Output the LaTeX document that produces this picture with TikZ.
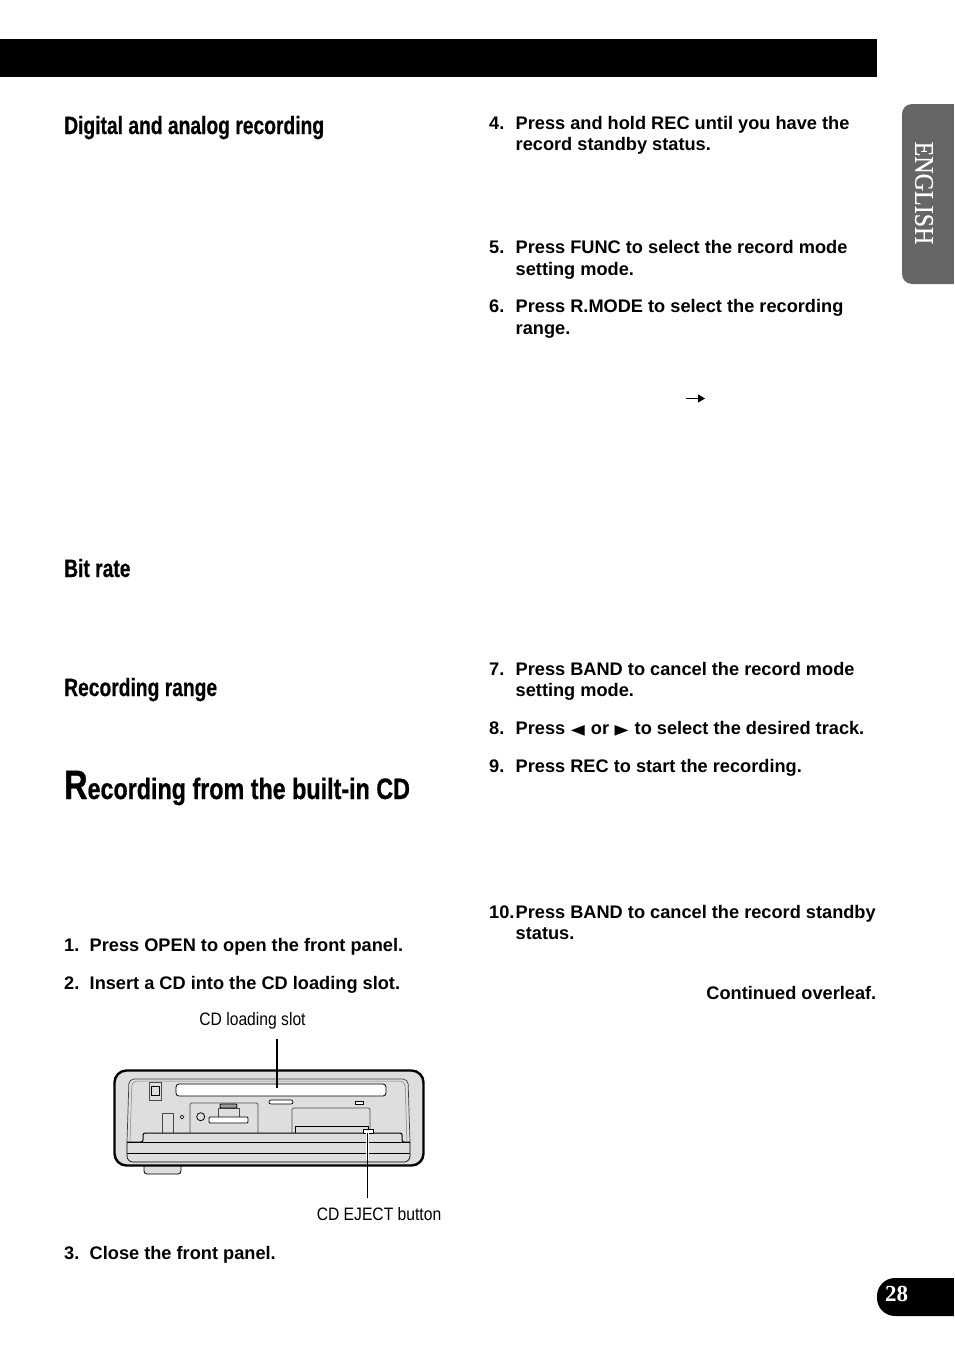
\documentclass[tikz,border=0pt]{standalone}
\usepackage{fontspec}
\usetikzlibrary{arrows.meta}
\setmainfont{Liberation Sans}
\newfontfamily\headfont[FakeStretch=0.77,FakeBold=0.5]{Liberation Sans}
\newfontfamily\titlefont[FakeStretch=0.79,FakeBold=0.7]{Liberation Sans}
\newfontfamily\narrowfont[FakeStretch=0.87]{Liberation Sans}
\newfontfamily\tabfont[FakeStretch=0.89,FakeBold=0.3]{Liberation Serif}
\newfontfamily\numfont{Liberation Serif}
\newfontfamily\symfont[FakeStretch=1.3]{DejaVu Sans}

\begin{document}
\begin{tikzpicture}[x=1pt,y=-1pt]
    \useasboundingbox (0,0) rectangle (954,1355);

    % bars and tabs
    \fill [black] (0,39) rectangle (877,77);
    \fill [black!60,rounded corners=10pt] (902,104) -- (902,284) -- (970,284) -- (970,104) -- cycle;
    \fill [black,rounded corners=18pt] (877,1278) rectangle (990,1316);
    \fill [white] (954,1270) rectangle (990,1320);
    \fill [white] (954,100) rectangle (970,290);
    \node (tablabel) at (924,193) [rotate=-90,text=white,font=\tabfont\fontsize{27}{27}\selectfont] {ENGLISH};
    \node (pagenum) at (896.5,1294) [text=white,font=\numfont\bfseries\fontsize{23}{23}\selectfont] {28};

    % headings
    \begin{scope}[every node/.style={anchor=base west,inner sep=0pt,font=\headfont\bfseries\fontsize{25}{25}\selectfont}]
      \node (digital) at (64,134) {Digital and analog recording};
      \node (bitrate) at (64,577) {Bit rate};
      \node (range) at (64,696) {Recording range};
      \node (title) at (64,799) [font=\titlefont\bfseries] {{\fontsize{41}{41}\selectfont R}{\fontsize{29.5}{29.5}\selectfont ecording from the built-in CD}};
    \end{scope}

    % steps
    \begin{scope}[every node/.style={anchor=base west,inner sep=0pt,font=\bfseries\fontsize{18.2}{21}\selectfont}]
      \node (n1) at (64,951) {1.};
      \node (s1) at (89.5,951) {Press OPEN to open the front panel.};
      \node (n2) at (64,989) {2.};
      \node (s2) at (89.5,989) {Insert a CD into the CD loading slot.};
      \node (n3) at (64,1259) {3.};
      \node (s3) at (89.5,1259) {Close the front panel.};
      \node (n4) at (489,129) {4.};
      \node (s4) at (515.5,129) {Press and hold REC until you have the};
      \node (s4b) at (515.5,150) {record standby status.};
      \node (n5) at (489,253) {5.};
      \node (s5) at (515.5,253) {Press FUNC to select the record mode};
      \node (s5b) at (515.5,275) {setting mode.};
      \node (n6) at (489,312) {6.};
      \node (s6) at (515.5,312) {Press R.MODE to select the recording};
      \node (s6b) at (515.5,334) {range.};
      \node (n7) at (489,675) {7.};
      \node (s7) at (515.5,675) {Press BAND to cancel the record mode};
      \node (s7b) at (515.5,696) {setting mode.};
      \node (n8) at (489,734) {8.};
      \node (s8) at (515.5,734) {Press\hspace{.5pt} {\symfont\fontsize{14}{14}\selectfont ◀}\hspace{1pt} or\hspace{.5pt} {\symfont\fontsize{14}{14}\selectfont ▶}\hspace{1pt} to select the desired track.};
      \node (n9) at (489,772) {9.};
      \node (s9) at (515.5,772) {Press REC to start the recording.};
      \node (n10) at (489,918) {10.};
      \node (s10) at (515.5,918) {Press BAND to cancel the record standby};
      \node (s10b) at (515.5,939) {status.};
      \node (overleaf) at (876.5,999) [anchor=base east] {Continued overleaf.};
    \end{scope}

    \coordinate (arrowa) at (686,398.5);
    \coordinate (arrowb) at (705,398.5);
    \draw [-{Triangle[length=7pt,width=8pt]},line width=1.3pt] (arrowa) -- (arrowb);

    % front panel
    \draw [black,line width=.8pt,fill=black!13,rounded corners=3pt] (144,1160) -- (144,1174) -- (181,1174) -- (181,1160) -- cycle;
    \draw [line width=2.4pt,fill=black!13,rounded corners=12pt] (114.5,1070.5) rectangle (423.5,1165.5);
    \draw [black!75,line width=.7pt,rounded corners=5pt] (127,1142) -- (129,1079) -- (408,1079) -- (410,1142);
    \draw [black!50,line width=.5pt,rounded corners=5pt] (130,1142) -- (132,1081) -- (405,1081) -- (407,1142);
    \draw [black,line width=.8pt,fill=white,rounded corners=3pt] (176,1084) rectangle (386,1096);
    \draw [black!70,line width=.7pt] (149,1082) rectangle (161,1100);
    \draw [black,line width=.7pt] (151,1086) rectangle (159,1095);
    \draw [black,line width=.7pt,fill=white,rounded corners=2pt] (269,1100) rectangle (293,1104);
    \draw [black,line width=.7pt,fill=white] (355,1101) rectangle (363,1104);
    \draw [black!70,line width=.7pt] (162,1133) -- (162,1113) -- (173,1113) -- (173,1133);
    \draw [black,line width=.6pt] (182,1115) -- (184,1117) -- (182,1119) -- (180,1117) -- cycle;
    \draw [black!70,line width=.7pt,rounded corners=2pt] (190,1133) -- (190,1103) -- (258,1103) -- (258,1133);
    \draw [black,line width=.8pt] (200.7,1116.7) circle (4);
    \draw [black!70,line width=.7pt] (218,1117) -- (218,1108) -- (239,1108) -- (239,1117);
    \draw [black,line width=.8pt,fill=black!40,rounded corners=1pt] (220,1104) rectangle (237,1108);
    \draw [black,line width=.8pt,fill=white,rounded corners=1pt] (209,1117) rectangle (248,1123);
    \draw [black!70,line width=.7pt,rounded corners=2pt] (292,1133) -- (292,1108) -- (370,1108) -- (370,1133);
    \draw [black,line width=1pt] (295,1133) -- (295,1126) -- (368,1126) -- (368,1130);
    \draw [black,line width=1pt,rounded corners=2pt] (127,1142) -- (143,1142) -- (143,1133) -- (402,1133) -- (402,1142) -- (410,1142);
    \draw [black,line width=.9pt] (127,1142) -- (410,1142);
    \draw [black,line width=.9pt] (127,1153) -- (410,1153);
    \draw [black,line width=.7pt,rounded corners=6pt] (127,1142) -- (127,1162) -- (410,1162) -- (410,1142);
    \draw [black,line width=.8pt,fill=white] (363,1129) rectangle (373,1133);

    % labels and leaders
    \begin{scope}[every node/.style={anchor=base,inner sep=0pt,font=\narrowfont\fontsize{18}{18}\selectfont}]
      \node (slotlabel) at (252.5,1025) {CD loading slot};
      \node (ejectlabel) at (379,1220) {CD EJECT button};
    \end{scope}
    \coordinate (slotleadera) at (277,1039);
    \coordinate (slot) at (277,1088);
    \coordinate (eject) at (367,1133);
    \coordinate (ejectleader) at (367,1198);
    \draw [white,line width=3pt] (eject) -- (367,1160);
    \draw [black,line width=1.6pt] (slotleadera) -- (slot);
    \draw [black,line width=1pt] (eject) -- (ejectleader);
\end{tikzpicture}
\end{document}
